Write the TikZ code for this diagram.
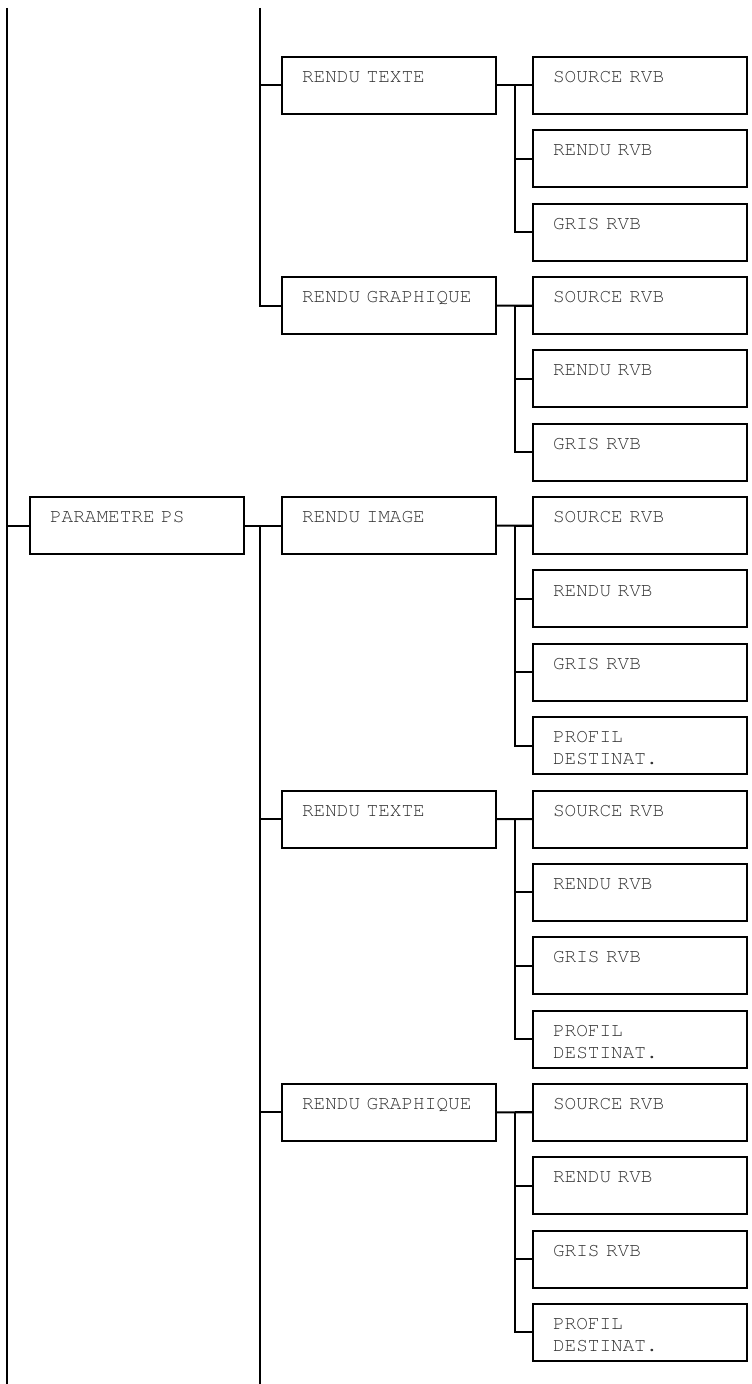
\documentclass[tikz,border=0pt]{standalone}
\usepackage{fontspec}
\setmonofont{TeX Gyre Cursor}
\usetikzlibrary{calc}

\tikzset{
  menu/.style={draw,line width=1pt,anchor=north west,text width=87pt,align=left,
    inner xsep=10pt,inner ysep=0pt,text height=12.8pt,text depth=15.7pt,
    font=\ttfamily\fontsize{9.7}{11}\selectfont,text=black!80},
  link/.style={line width=1pt}
}

\begin{document}
\begin{tikzpicture}[x=0.5pt,y=-0.5pt]
\useasboundingbox (0,0) rectangle (751,1384);
\coordinate (ltop) at (7,8);
\coordinate (lbot) at (7,1384);
\coordinate (btop) at (260,8);
\coordinate (bbot) at (260,1384);

\node[menu] (p) at (29,496.1) {PARAMETRE PS};

\node[menu] (r1) at (281,56) {RENDU TEXTE};
\node[menu] (r4) at (281,276.1) {RENDU GRAPHIQUE};
\node[menu] (r7) at (281,496.1) {RENDU IMAGE};
\node[menu] (r11) at (281,789.5) {RENDU TEXTE};
\node[menu] (r15) at (281,1082.9) {RENDU GRAPHIQUE};

\foreach \i/\txt in {1/SOURCE RVB,2/RENDU RVB,3/GRIS RVB,
                     4/SOURCE RVB,5/RENDU RVB,6/GRIS RVB,
                     7/SOURCE RVB,8/RENDU RVB,9/GRIS RVB,10/PROFIL\\DESTINAT.,
                     11/SOURCE RVB,12/RENDU RVB,13/GRIS RVB,14/PROFIL\\DESTINAT.,
                     15/SOURCE RVB,16/RENDU RVB,17/GRIS RVB,18/PROFIL\\DESTINAT.}
  \node[menu] (s\i) at (532,{56+73.35*(\i-1)}) {\txt};

\draw[link] (ltop) -- (lbot);
\draw[link] (ltop |- p.west) -- (p.west);

\draw[link] (btop) |- (r4.west);
\draw[link] (btop |- r1.west) -- (r1.west);
\draw[link] (p.east) -- (r7.west);
\draw[link] (btop |- p.east) -- (bbot);
\draw[link] (bbot |- r11.west) -- (r11.west);
\draw[link] (bbot |- r15.west) -- (r15.west);

\foreach \up/\first/\last in {r1/1/3,r4/4/6,r7/7/10,r11/11/14,r15/15/18} {
  \draw[link] (\up.east) -- (s\first.west);
  \coordinate (m) at ($(\up.east)!.5!(s\first.west)$);
  \draw[link] (m) |- (s\last.west);
  \foreach \k in {\first,...,\last}
    \draw[link] (m |- s\k.west) -- (s\k.west);
}
\end{tikzpicture}
\end{document}
